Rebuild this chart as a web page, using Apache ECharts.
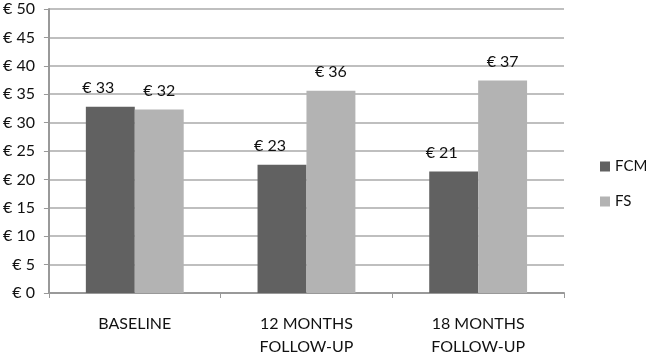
<!DOCTYPE html>
<html>
<head>
<meta charset="utf-8">
<script src="https://cdn.jsdelivr.net/npm/echarts@6/dist/echarts.min.js"></script>
<style>
  html, body { margin: 0; padding: 0; background: #fff; }
  #chart { width: 646px; height: 358px; }
</style>
</head>
<body>
<div id="chart"></div>
<script>
var categories = ['BASELINE', '12 MONTHS\nFOLLOW-UP', '18 MONTHS\nFOLLOW-UP'];
var fcmValues = [32.8, 22.6, 21.4];
var fsValues = [32.3, 35.6, 37.4];
var seriesNames = ['FCM', 'FS'];

var myChart = echarts.init(document.getElementById('chart'));
var fontFamily = 'Lato, "Open Sans", sans-serif';

function euro(p) {
    return '€ ' + Math.round(p.value);
}

option = {
    backgroundColor: '#fff',
    animation: false,
    color: ['#616161', '#b3b3b3'],
    textStyle: { fontFamily: fontFamily },
    grid: {
        left: 48,
        right: 82,
        top: 9,
        bottom: 61
    },
    legend: {
        orient: 'vertical',
        left: 595,
        top: 154,
        itemWidth: 10,
        itemHeight: 10,
        itemGap: 20,
        icon: 'rect',
        textStyle: { color: '#111', fontSize: 15, fontFamily: fontFamily },
        data: seriesNames
    },
    xAxis: {
        type: 'category',
        data: categories,
        axisLine: { lineStyle: { color: '#999', width: 2 } },
        axisTick: { show: true, length: 5, lineStyle: { color: '#999' } },
        axisLabel: {
            color: '#111',
            fontSize: 16,
            lineHeight: 23,
            margin: 19,
            fontFamily: fontFamily
        }
    },
    yAxis: {
        type: 'value',
        min: 0,
        max: 50,
        interval: 5,
        axisLine: { show: true, lineStyle: { color: '#999', width: 2 } },
        axisTick: { show: true, length: 5, lineStyle: { color: '#999' } },
        splitLine: { lineStyle: { color: '#aaa', width: 1.5 } },
        axisLabel: {
            color: '#111',
            fontSize: 16,
            margin: 14,
            fontFamily: fontFamily,
            formatter: function (v) { return '€ ' + v; }
        }
    },
    series: [
        {
            name: seriesNames[0],
            type: 'bar',
            data: fcmValues,
            barGap: '0%',
            barCategoryGap: '43%',
            label: {
                show: true,
                position: 'top',
                distance: 11,
                offset: [-12, 0],
                color: '#111',
                fontSize: 16,
                fontFamily: fontFamily,
                formatter: euro
            }
        },
        {
            name: seriesNames[1],
            type: 'bar',
            data: fsValues,
            label: {
                show: true,
                position: 'top',
                distance: 11,
                color: '#111',
                fontSize: 16,
                fontFamily: fontFamily,
                formatter: euro
            }
        }
    ]
};
myChart.setOption(option);
</script>
</body>
</html>
